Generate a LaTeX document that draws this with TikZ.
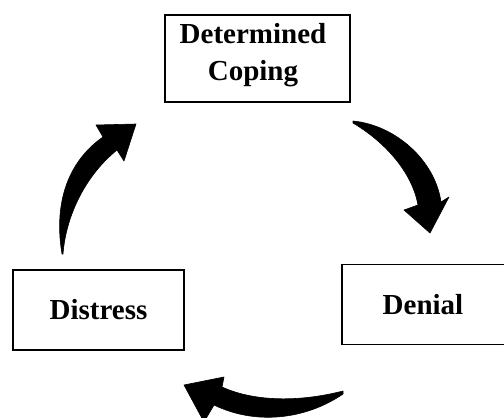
\documentclass[tikz,border=0pt]{standalone}
\usepackage{fontspec}
\setmainfont{Liberation Serif}
\begin{document}
\begin{tikzpicture}[x=1pt,y=-1pt,
  box/.style={draw=black,line width=1.6pt,inner sep=0pt,align=center,
    font=\fontsize{29}{37}\selectfont\bfseries},
  bigarrow/.style={fill=black,draw=black,line width=0.6pt,line join=round}]
\useasboundingbox (0,0) rectangle (504,418);
\node[box,minimum width=185,minimum height=87] (coping) at (257.5,58.5) {};
\node[box,draw=none] (copingtext) at (253,55) {Determined\\Coping};
\node[box,minimum width=172,minimum height=80] (denial) at (428,304.5) {};
\node[box,draw=none] (denialtext) at (423,305) {Denial};
\node[box,minimum width=171,minimum height=80] (distress) at (98.5,310) {Distress};
% arrow from Determined Coping to Denial
\path[bigarrow] (353,121) .. controls (395,125) and (435,160) .. (441,202)
  -- (449,197) -- (430,233) -- (404,210) -- (418,205)
  .. controls (412,172) and (385,142) .. (353,123) -- cycle;
% arrow from Denial to Distress
\path[bigarrow] (343,391) .. controls (300,402) and (255,402) .. (222,387)
  -- (224,377) -- (184,385) -- (204,422) -- (214,405)
  .. controls (255,425) and (305,420) .. (343,394) -- cycle;
% arrow from Distress to Determined Coping
\path[bigarrow] (62,254) .. controls (53,200) and (70,160) .. (103,137)
  -- (96,125) -- (136,124) -- (124,161) -- (117,150)
  .. controls (86,175) and (66,215) .. (63,254) -- cycle;
\end{tikzpicture}
\end{document}
